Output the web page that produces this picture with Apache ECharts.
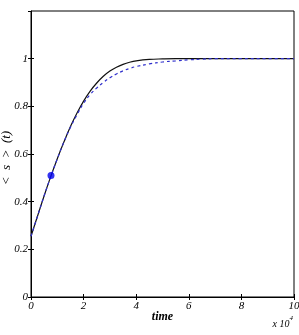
<!DOCTYPE html>
<html>
<head>
<meta charset="utf-8">
<script src="https://cdn.jsdelivr.net/npm/echarts@6/dist/echarts.min.js"></script>
<style>
  html, body { margin: 0; padding: 0; background: #fff; }
  #chart { width: 299px; height: 335px; }
</style>
</head>
<body>
<div id="chart"></div>
<script>
// time in units of 10^4
const timeSolid = [0, 0.25, 0.5, 0.75, 1, 1.25, 1.5, 1.75, 2, 2.25, 2.5, 2.75, 3, 3.25, 3.5, 3.75, 4, 4.5, 5, 5.5, 6, 7, 8, 9, 10];
const sSolid = [0.255, 0.34, 0.425, 0.505, 0.58, 0.65, 0.715, 0.772, 0.822, 0.864, 0.898, 0.926, 0.948, 0.964, 0.976, 0.985, 0.991, 0.997, 0.999, 1, 1, 1, 1, 1, 1];

const timeDashed = [0, 0.25, 0.5, 0.75, 1, 1.25, 1.5, 1.75, 2, 2.25, 2.5, 2.75, 3, 3.25, 3.5, 3.75, 4, 4.5, 5, 5.5, 6, 6.5, 7, 8, 9, 10];
const sDashed = [0.255, 0.34, 0.425, 0.505, 0.58, 0.65, 0.712, 0.765, 0.813, 0.85, 0.877, 0.9, 0.92, 0.936, 0.949, 0.959, 0.967, 0.978, 0.986, 0.991, 0.995, 0.998, 1, 1, 1, 1];

const markerPoint = [0.76, 0.51];

const xTicks = [0, 2, 4, 6, 8, 10];
const yTicks = [0, 0.2, 0.4, 0.6, 0.8, 1];

const serif = "Liberation Serif";

function pairs(xs, ys) {
  return xs.map((x, i) => [x, ys[i]]);
}

const chart = echarts.init(document.getElementById("chart"));

const tickLabel = {
  fontFamily: serif,
  fontStyle: "italic",
  fontSize: 11,
  color: "#000",
};

const option = {
  animation: false,
  grid: {
    left: 31,
    right: 5,
    top: 11,
    bottom: 38,
    containLabel: false,
    outerBoundsMode: "none",
    show: true,
    borderColor: "#000",
    borderWidth: 1,
    backgroundColor: "#fff",
  },
  xAxis: [
    {
      type: "value",
      min: 0,
      max: 10,
      interval: 2,
      name: "time",
      nameLocation: "middle",
      nameGap: 14,
      nameMoveOverlap: false,
      nameTextStyle: { fontFamily: serif, fontStyle: "italic", fontWeight: "bold", fontSize: 12, color: "#000" },
      axisLine: { show: true, lineStyle: { color: "#000" } },
      axisTick: { show: true, inside: true, length: 3, lineStyle: { color: "#000" } },
      axisLabel: Object.assign({ margin: 4, formatter: (v) => (xTicks.includes(v) ? String(v) : "") }, tickLabel),
      splitLine: { show: false },
    },
    {
      type: "value",
      position: "top",
      min: 0,
      max: 10,
      interval: 2,
      axisLine: { show: false },
      axisTick: { show: true, inside: true, length: 3, lineStyle: { color: "#000" } },
      axisLabel: { show: false },
      splitLine: { show: false },
    },
  ],
  yAxis: [
    {
      type: "value",
      min: 0,
      max: 1.2,
      interval: 0.2,
      name: "<  s  >  (t)",
      nameLocation: "middle",
      nameGap: 18,
      nameRotate: 90,
      nameMoveOverlap: false,
      nameTextStyle: { fontFamily: serif, fontStyle: "italic", fontSize: 13, color: "#000", padding: [0, 8, 0, 0] },
      axisLine: { show: true, lineStyle: { color: "#000" } },
      axisTick: { show: true, inside: true, length: 3, lineStyle: { color: "#000" } },
      axisLabel: Object.assign({
        margin: 3,
        showMaxLabel: false,
        formatter: (v) => {
          const r = Math.round(v * 10) / 10;
          return yTicks.includes(r) ? String(r) : "";
        },
      }, tickLabel),
      splitLine: { show: false },
    },
    {
      type: "value",
      position: "right",
      min: 0,
      max: 1.2,
      interval: 0.2,
      axisLine: { show: false },
      axisTick: { show: true, inside: true, length: 3, lineStyle: { color: "#000" } },
      axisLabel: { show: false },
      splitLine: { show: false },
    },
  ],
  series: [
    {
      name: "solid",
      type: "line",
      smooth: 0.4,
      showSymbol: false,
      data: pairs(timeSolid, sSolid),
      lineStyle: { color: "#111", width: 1.2 },
      z: 3,
    },
    {
      name: "dashed",
      type: "line",
      smooth: 0.4,
      showSymbol: false,
      data: pairs(timeDashed, sDashed),
      lineStyle: { color: "#3030cc", width: 1.2, type: [3, 3] },
      z: 4,
    },
    {
      name: "point",
      type: "scatter",
      symbolSize: 7,
      data: [markerPoint],
      itemStyle: { color: "#0000ee" },
      z: 5,
    },
  ],
  graphic: [
    {
      type: "text",
      right: 6,
      top: 315,
      style: {
        text: "{a|x 10}{b|4}",
        rich: {
          a: { fontFamily: serif, fontStyle: "italic", fontSize: 10, color: "#000", padding: [4, 0, 0, 0] },
          b: { fontFamily: serif, fontStyle: "italic", fontSize: 7, color: "#000", verticalAlign: "top" },
        },
      },
    },
  ],
};

chart.setOption(option);
</script>
</body>
</html>
